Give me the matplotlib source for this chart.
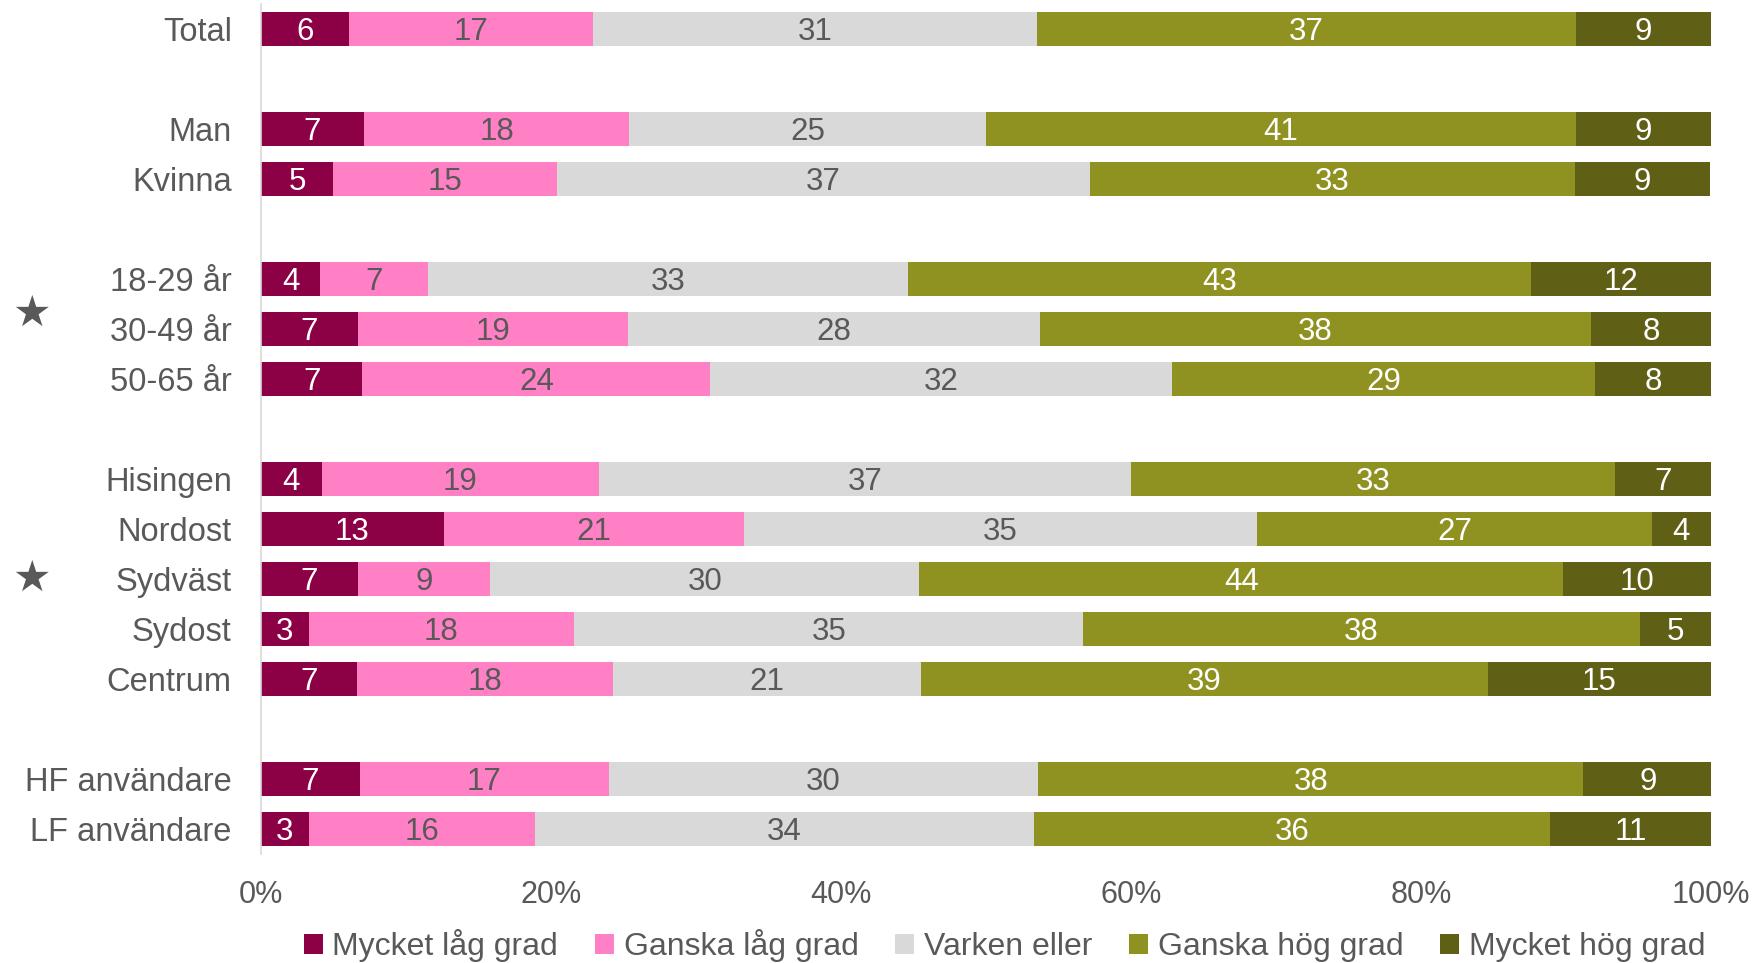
import numpy as np
import matplotlib
matplotlib.use("Agg")
import matplotlib.pyplot as plt
from matplotlib import font_manager

# categories, top to bottom (None = empty gap row)
categories = ["Total", None, "Man", "Kvinna", None, "18-29 år", "30-49 år", "50-65 år", None,
              "Hisingen", "Nordost", "Sydväst", "Sydost", "Centrum", None,
              "HF användare", "LF användare"]
starred = ["30-49 år", "Sydväst"]

series = ["Mycket låg grad", "Ganska låg grad", "Varken eller", "Ganska hög grad", "Mycket hög grad"]

# percent per group
mycket_lag = [6.1, 7.1, 5.0, 4.1, 6.7, 7.0, 4.2, 12.6, 6.7, 3.3, 6.6, 6.8, 3.3]
ganska_lag = [16.8, 18.3, 15.4, 7.4, 18.6, 24.0, 19.1, 20.7, 9.1, 18.3, 17.7, 17.2, 15.6]
varken = [30.6, 24.6, 36.8, 33.1, 28.4, 31.8, 36.7, 35.4, 29.6, 35.1, 21.2, 29.6, 34.4]
ganska_hog = [37.2, 40.7, 33.4, 43.0, 38.0, 29.2, 33.4, 27.2, 44.4, 38.4, 39.1, 37.6, 35.6]
mycket_hog = [9.3, 9.3, 9.3, 12.4, 8.3, 8.0, 6.6, 4.1, 10.2, 4.9, 15.4, 8.9, 11.1]

colors = ["#8C0046", "#FF80C4", "#D9D9D9", "#8F9120", "#5F5F15"]
text_colors = ["white", "#595959", "#595959", "white", "white"]
gray = "#595959"

fonts = {f.name for f in font_manager.fontManager.ttflist}
main_font = "Liberation Sans" if "Liberation Sans" in fonts else "DejaVu Sans"
narrow_font = "Liberation Sans Narrow" if "Liberation Sans Narrow" in fonts else main_font
plt.rcParams['font.family'] = [main_font, 'DejaVu Sans']

values = np.array([mycket_lag, ganska_lag, varken, ganska_hog, mycket_hog])
rows = [i for i, c in enumerate(categories) if c is not None]
labels = [c for c in categories if c is not None]

fig = plt.figure(figsize=(17.56, 9.63), dpi=100)
ax = fig.add_axes([0.1486, 0.1132, 0.8258, 0.8826])

left = np.zeros(len(rows))
for k in range(len(series)):
    vals = values[k]
    ax.barh(rows, vals, left=left, height=0.67, color=colors[k], label=series[k])
    for y, l, v in zip(rows, left, vals):
        ax.text(l + v / 2, y + 0.06, f"{v:.0f}", ha='center', va='center',
                color=text_colors[k], fontsize=22.5)
    left = left + vals

ax.set_xlim(0, 100)
ax.set_ylim(len(categories) - 0.5, -0.5)
ax.set_yticks(rows)
ax.set_yticklabels(labels, fontsize=23.5, color=gray)
ax.set_xticks(np.arange(0, 101, 20))
ax.set_xticklabels([f"{t}%" for t in range(0, 101, 20)], fontsize=22, color=gray,
                   family=narrow_font)
ax.tick_params(axis='y', length=0, pad=21)
ax.tick_params(axis='x', length=0, pad=19)
for s in ['top', 'right', 'bottom']:
    ax.spines[s].set_visible(False)
ax.spines['left'].set_color("#D9D9D9")
ax.spines['left'].set_linewidth(1.2)

# stars for significant groups
for name in starred:
    y = categories.index(name)
    if name == "30-49 år":
        y = y - 0.3
    ax.text(-15.8, y, "★", ha='center', va='center', fontsize=31, color=gray,
            family='DejaVu Sans', clip_on=False)

leg = fig.legend(loc='center', bbox_to_anchor=(0.572, 0.018), ncol=5, frameon=False,
                 prop={'family': narrow_font, 'size': 23}, handlelength=0.6,
                 handleheight=0.6, handletextpad=0.3, columnspacing=1.15)
for t in leg.get_texts():
    t.set_color(gray)

fig.savefig("out.png", dpi=100, facecolor='white')
